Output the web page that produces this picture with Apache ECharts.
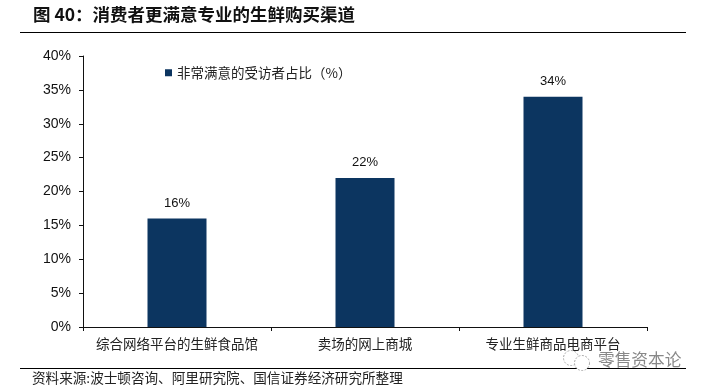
<!DOCTYPE html>
<html><head><meta charset="utf-8">
<style>html,body{margin:0;padding:0;background:#fff}#c{width:704px;height:392px}</style>
<script src="https://cdn.jsdelivr.net/npm/echarts@6/dist/echarts.min.js"></script>
</head><body><div id="c"></div>
<script>
const titleText = "图 40：消费者更满意专业的生鲜购买渠道";
const sourceText = "资料来源:波士顿咨询、阿里研究院、国信证券经济研究所整理";
const watermarkText = "零售资本论";
const seriesName = "非常满意的受访者占比（%）";
const categories = ["综合网络平台的生鲜食品馆", "卖场的网上商城", "专业生鲜商品电商平台"];
const values = [16, 22, 34];
const cjk = '"Noto Sans CJK SC","Noto Sans",sans-serif';
const latin = '"Liberation Sans",Arial,sans-serif';
const chart = echarts.init(document.getElementById('c'), null, {renderer:'canvas'});
chart.setOption({
  animation:false,
  backgroundColor:'#fff',
  grid:{left:83,right:57,top:56,bottom:65},
  legend:{left:165,top:66,padding:0,itemWidth:7,itemHeight:7,itemGap:5,icon:'rect',
    textStyle:{fontFamily:cjk,fontSize:13.5,color:'#222'},data:[seriesName]},
  xAxis:{type:'category',data:categories,
    axisLine:{lineStyle:{color:'#111',width:1}},
    axisTick:{show:true,alignWithLabel:false,length:4,lineStyle:{color:'#111'}},
    axisLabel:{fontFamily:cjk,fontSize:13.5,color:'#222',margin:10,interval:0}},
  yAxis:{type:'value',min:0,max:40,interval:5,
    axisLine:{show:true,lineStyle:{color:'#111',width:1}},
    axisTick:{show:true,length:4,lineStyle:{color:'#111'}},
    splitLine:{show:false},
    axisLabel:{fontFamily:latin,fontSize:14,color:'#111',margin:12,formatter:'{value}%'}},
  series:[{name:seriesName,type:'bar',data:values,barWidth:59,
    itemStyle:{color:'#0C3560'},
    label:{show:true,position:'top',distance:9,fontFamily:latin,fontSize:13,color:'#111',formatter:'{c}%'}}],
  graphic:[
    {type:'text',left:33,top:6,style:{text:titleText,fontFamily:cjk,fontWeight:'bold',fontSize:17.5,fill:'#111'}},
    {type:'line',shape:{x1:20,y1:32.5,x2:686,y2:32.5},style:{stroke:'#000',lineWidth:1}},
    {type:'line',shape:{x1:20,y1:368.5,x2:686,y2:368.5},style:{stroke:'#000',lineWidth:1}},
    {type:'text',left:32,top:371,style:{text:sourceText,fontFamily:cjk,fontSize:13.6,fill:'#222'}},
    {type:'circle',shape:{cx:571,cy:358,r:7.5},style:{fill:'#fff',stroke:'#aaa',lineWidth:1,lineDash:[2,1.5]}},
    {type:'circle',shape:{cx:582,cy:363,r:7.5},style:{fill:'#fff',stroke:'#aaa',lineWidth:1,lineDash:[2,1.5]}},
    {type:'text',left:598,top:351,style:{text:watermarkText,fontFamily:cjk,fontSize:16.7,fill:'#888'}}
  ]
});
</script></body></html>
